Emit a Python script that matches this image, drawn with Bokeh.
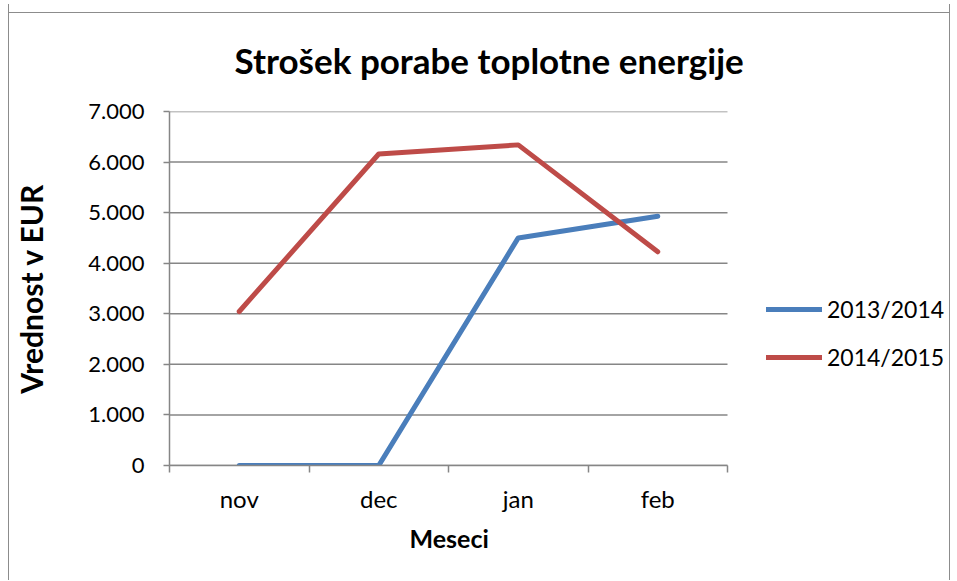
from bokeh.plotting import figure
from bokeh.models import FixedTicker, Range1d, Legend, LegendItem, Title
from bokeh.embed import file_html
from bokeh.resources import INLINE

months = ["nov", "dec", "jan", "feb"]
series_names = ["2013/2014", "2014/2015"]
values_2013_2014 = [0, 0, 4500, 4930]
values_2014_2015 = [3045, 6160, 6340, 4225]
series_colors = ["#4A7EBB", "#BE4B48"]
y_ticks = [0, 1000, 2000, 3000, 4000, 5000, 6000, 7000]
y_tick_labels = ["0", "1.000", "2.000", "3.000", "4.000", "5.000", "6.000", "7.000"]

FONT = "Lato"
GRAY = "#868686"
BORDER = "#8c8c8c"
TEXT = "#000000"

# layout (pixels)
W, H = 942, 576
LEFT, TOP, BOTTOM = 160, 107, 115
PLOT_W = 558                 # width of the drawn plot area
FRAME_W = W - LEFT - 2       # frame extends under the legend area

n = len(months)
x_pos = [i + 0.5 for i in range(n)]
boundaries = list(range(n + 1))
x_end = n * FRAME_W / PLOT_W

p = figure(width=W, height=H, output_backend="svg", toolbar_location=None,
           x_range=Range1d(0, x_end), y_range=Range1d(0, 7000),
           min_border_left=LEFT, min_border_right=2, min_border_top=TOP,
           min_border_bottom=BOTTOM)
p.margin = (4, 0, 0, 8)
p.styles = {
    "border-left": f"1px solid {BORDER}",
    "border-right": f"1px solid {BORDER}",
    "background": f"linear-gradient({BORDER}, {BORDER}) 0 8px / 100% 1px no-repeat, white",
}
p.outline_line_color = None
p.background_fill_color = "white"
p.border_fill_alpha = 0

p.title.text = "Strošek porabe toplotne energije"
p.title.text_font = FONT
p.title.text_font_size = "35px"
p.title.text_font_style = "bold"
p.title.text_color = TEXT
p.title.align = "left"
p.title.offset = 65
p.title.standoff = 61

# horizontal gridlines limited to the plot area
p.segment(x0=[0] * len(y_ticks), x1=[n] * len(y_ticks), y0=y_ticks, y1=y_ticks,
          line_color=GRAY, line_width=1.5)

renderers = []
for vals, col in zip([values_2013_2014, values_2014_2015], series_colors):
    r = p.line(x_pos, vals, line_width=5, line_color=col, line_join="round", line_cap="round")
    renderers.append(r)

# x axis
xa = p.xaxis[0]
xa.bounds = (0, n)
xa.ticker = FixedTicker(ticks=x_pos, minor_ticks=boundaries)
xa.major_label_overrides = {x: m for x, m in zip(x_pos, months)}
xa.major_tick_in = 0
xa.major_tick_out = 0
xa.minor_tick_in = 0
xa.minor_tick_out = 7
xa.minor_tick_line_color = GRAY
xa.minor_tick_line_width = 1.5
xa.axis_line_color = GRAY
xa.axis_line_width = 1.5
xa.major_label_text_font = FONT
xa.major_label_text_font_size = "24px"
xa.major_label_text_color = TEXT
xa.major_label_standoff = 11

x_title = Title(text="Meseci", align="left", offset=240, standoff=10,
                text_font=FONT, text_font_size="25px", text_font_style="bold",
                text_color=TEXT)
p.add_layout(x_title, "below")

# y axis
ya = p.yaxis[0]
ya.ticker = FixedTicker(ticks=y_ticks, minor_ticks=[])
ya.major_label_overrides = {t: l for t, l in zip(y_ticks, y_tick_labels)}
ya.major_tick_in = 0
ya.major_tick_out = 6
ya.major_tick_line_color = GRAY
ya.major_tick_line_width = 1.5
ya.axis_line_color = GRAY
ya.axis_line_width = 1.5
ya.major_label_text_font = FONT
ya.major_label_text_font_size = "22px"
ya.major_label_text_color = TEXT
ya.major_label_standoff = 19
ya.axis_label = "Vrednost v EUR"
ya.axis_label_text_font = FONT
ya.axis_label_text_font_size = "30px"
ya.axis_label_text_font_style = "bold"
ya.axis_label_text_color = TEXT
ya.axis_label_standoff = 36

p.xgrid.visible = False
p.ygrid.visible = False

legend = Legend(items=[LegendItem(label=nm, renderers=[r]) for nm, r in zip(series_names, renderers)],
                location=(597, 94), padding=0, margin=0, spacing=20,
                glyph_width=56, glyph_height=20, label_height=20, label_standoff=5,
                label_text_font=FONT, label_text_font_size="23px", label_text_color=TEXT,
                border_line_color=None, background_fill_alpha=0)
p.add_layout(legend, "center")

open("out.html", "w").write(file_html(p, INLINE))
